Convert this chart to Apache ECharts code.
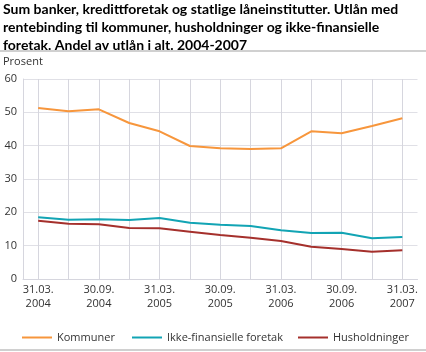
<!DOCTYPE html>
<html>
<head>
<meta charset="utf-8">
<script src="https://cdn.jsdelivr.net/npm/echarts@6/dist/echarts.min.js"></script>
<style>
html, body { margin: 0; padding: 0; background: #fff; }
#main { width: 426px; height: 352px; }
</style>
</head>
<body>
<div id="main"></div>
<script>
// kvartalsvise datoer, 31.03.2004 - 31.03.2007
var datoer = ['31.03.\n2004', '30.06.\n2004', '30.09.\n2004', '31.12.\n2004',
    '31.03.\n2005', '30.06.\n2005', '30.09.\n2005', '31.12.\n2005',
    '31.03.\n2006', '30.06.\n2006', '30.09.\n2006', '31.12.\n2006', '31.03.\n2007'];
var kommuner = [51.3, 50.3, 50.9, 46.8, 44.3, 39.9, 39.2, 39.0, 39.2, 44.3, 43.7, 45.9, 48.2];
var ikkeFinansielle = [18.5, 17.8, 17.9, 17.7, 18.3, 16.9, 16.3, 15.9, 14.6, 13.8, 13.9, 12.2, 12.6];
var husholdninger = [17.5, 16.6, 16.4, 15.3, 15.2, 14.2, 13.2, 12.4, 11.4, 9.7, 9.0, 8.2, 8.6];

var chart = echarts.init(document.getElementById('main'));
var font = 'Open Sans';
var gridFarge = '#d6d6de';

var option = {
    animation: false,
    textStyle: { fontFamily: font },
    title: [{
        text: 'Sum banker, kredittforetak og statlige låneinstitutter. Utlån med\nrentebinding til kommuner, husholdninger og ikke-finansielle\nforetak. Andel av utlån i alt. 2004-2007',
        left: 3, top: 0, padding: 0,
        textStyle: { fontSize: 14, fontWeight: 'bold', color: '#000', lineHeight: 18, fontFamily: 'Lato' }
    }, {
        text: 'Prosent',
        left: 3, top: 56, padding: 0,
        textStyle: { fontSize: 11, fontWeight: 'normal', color: '#333', fontFamily: font }
    }],
    graphic: [
        { type: 'rect', shape: { x: 0, y: 50, width: 426, height: 2 }, style: { fill: '#d0d0d0' } },
        { type: 'rect', shape: { x: 0, y: 349, width: 426, height: 2 }, style: { fill: '#d0d0d0' } }
    ],
    grid: { left: 23, right: 8.5, top: 79, bottom: 73 },
    xAxis: {
        type: 'category',
        data: datoer,
        boundaryGap: true,
        axisTick: { show: false },
        axisLine: { lineStyle: { color: gridFarge, width: 1 } },
        axisLabel: { interval: 1, color: '#333', fontSize: 11, lineHeight: 14, margin: 4 },
        splitLine: { show: true, interval: 0, alignWithLabel: true, lineStyle: { color: gridFarge, width: 1 } }
    },
    yAxis: {
        type: 'value',
        min: 0, max: 60, interval: 10,
        axisLine: { show: true, lineStyle: { color: gridFarge, width: 1 } },
        axisTick: { show: false },
        axisLabel: { color: '#333', fontSize: 11, margin: 6 },
        splitLine: { lineStyle: { color: '#e0e0e6', width: 1 } }
    },
    legend: [
        { data: ['Kommuner'], left: 22, top: 332, padding: 0, icon: 'rect', itemWidth: 30, itemHeight: 2,
          textStyle: { fontSize: 11, color: '#333' } },
        { data: ['Ikke-finansielle foretak'], left: 132, top: 332, padding: 0, icon: 'rect', itemWidth: 30, itemHeight: 2,
          textStyle: { fontSize: 11, color: '#333' } },
        { data: ['Husholdninger'], left: 298, top: 332, padding: 0, icon: 'rect', itemWidth: 30, itemHeight: 2,
          textStyle: { fontSize: 11, color: '#333' } }
    ],
    series: [
        { name: 'Kommuner', type: 'line', data: kommuner, symbol: 'none',
          lineStyle: { width: 2, color: '#f7963c' }, itemStyle: { color: '#f7963c' } },
        { name: 'Ikke-finansielle foretak', type: 'line', data: ikkeFinansielle, symbol: 'none',
          lineStyle: { width: 2, color: '#12a4b4' }, itemStyle: { color: '#12a4b4' } },
        { name: 'Husholdninger', type: 'line', data: husholdninger, symbol: 'none',
          lineStyle: { width: 2, color: '#a5302c' }, itemStyle: { color: '#a5302c' } }
    ]
};
chart.setOption(option);
</script>
</body>
</html>
